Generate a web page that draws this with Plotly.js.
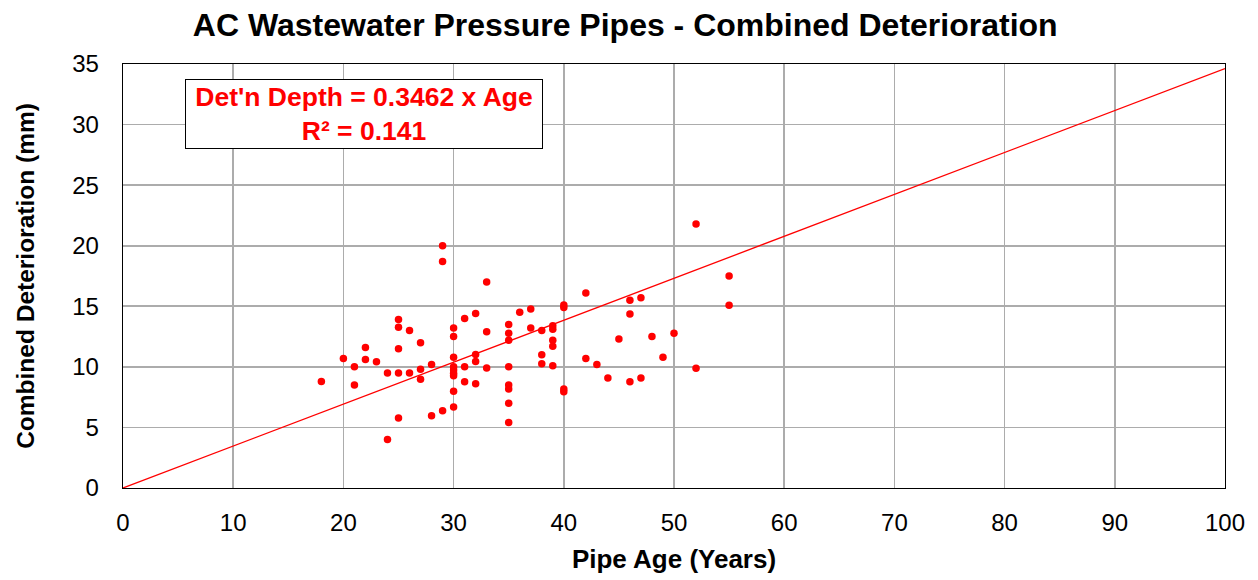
<!DOCTYPE html>
<html>
<head>
<meta charset="utf-8">
<script src="https://cdn.plot.ly/plotly-3.0.1.min.js"></script>
<style>
html,body{margin:0;padding:0;background:#fff;}
#chart{width:1258px;height:580px;}
</style>
</head>
<body>
<div id="chart"></div>
<script>
// Pipe age (years) of each sample
const pipeAge = [
  18,
  20,
  21, 21,
  22, 22,
  23,
  24, 24,
  25, 25, 25, 25, 25,
  26, 26,
  27, 27, 27,
  28, 28,
  29, 29, 29,
  30, 30, 30, 30, 30, 30, 30, 30, 30,
  31, 31, 31,
  32, 32, 32, 32,
  33, 33, 33,
  35, 35, 35, 35, 35, 35, 35, 35,
  36,
  37, 37,
  38, 38, 38,
  39, 39, 39, 39, 39,
  40, 40, 40, 40,
  42, 42,
  43,
  44,
  45,
  46, 46, 46,
  47, 47,
  48,
  49,
  50,
  52, 52,
  55, 55
];
// Combined deterioration depth (mm) of each sample
const deterioration = [
  8.8,
  10.7,
  10.0, 8.5,
  11.6, 10.6,
  10.43,
  9.5, 4.0,
  13.9, 13.27, 11.5, 9.5, 5.78,
  13.0, 9.5,
  12.0, 9.8, 8.97,
  10.2, 5.97,
  20.0, 18.7, 6.38,
  13.2, 12.5, 10.8, 10.0, 9.74, 9.47, 9.27, 7.98, 6.69,
  14.0, 10.0, 8.78,
  14.4, 11.03, 10.45, 8.6,
  17.0, 12.9, 9.9,
  13.5, 12.77, 12.2, 10.0, 8.5, 8.17, 7.0, 5.4,
  14.5,
  14.78, 13.2,
  13.0, 11.0, 10.26,
  13.4, 13.1, 12.2, 11.7, 10.1,
  15.1, 14.9, 8.17, 7.95,
  16.1, 10.7,
  10.2,
  9.08,
  12.3,
  15.5, 14.36, 8.78,
  15.7, 9.08,
  12.5,
  10.8,
  12.77,
  21.8, 9.88,
  17.5, 15.08
];
// Trend line (through origin) from the chart's equation
const trendSlope = 0.3462;
const trendR2 = 0.141;
const trendAgeRange = [0, 100];
const trendDepth = trendAgeRange.map(a => trendSlope * a);

const FONT = 'Liberation Sans, Arial, sans-serif';

const traces = [
  {
    x: trendAgeRange, y: trendDepth, type: 'scatter', mode: 'lines',
    line: {color: '#ff0000', width: 1.3}, hoverinfo: 'skip', showlegend: false
  },
  {
    x: pipeAge, y: deterioration, type: 'scatter', mode: 'markers',
    marker: {color: '#ff0000', size: 7.5}, showlegend: false
  }
];

const layout = {
  width: 1258, height: 580,
  paper_bgcolor: '#ffffff', plot_bgcolor: '#ffffff',
  margin: {l: 123, r: 33, t: 64, b: 92},
  font: {family: FONT, color: '#000000'},
  title: {
    text: 'AC Wastewater Pressure Pipes - Combined Deterioration',
    font: {family: FONT, size: 32, weight: 'bold', color: '#000000'},
    x: 0.497, xref: 'container', xanchor: 'center',
    y: 1 - 25/580, yref: 'container', yanchor: 'middle'
  },
  xaxis: {
    range: [0, 100], dtick: 10, tick0: 0,
    showgrid: true, gridcolor: '#acacac', gridwidth: 1.6,
    zeroline: false, showline: true, mirror: true, linecolor: '#000000', linewidth: 1.3,
    ticks: '', ticklabelstandoff: 13,
    tickfont: {family: FONT, size: 24, color: '#000000'},
    title: {text: 'Pipe Age (Years)', standoff: 14,
            font: {family: FONT, size: 26, weight: 'bold', color: '#000000'}}
  },
  yaxis: {
    range: [0, 35], dtick: 5, tick0: 0,
    showgrid: true, gridcolor: '#acacac', gridwidth: 1.6,
    zeroline: false, showline: true, mirror: true, linecolor: '#000000', linewidth: 1.3,
    ticks: '', ticklabelstandoff: 18,
    tickfont: {family: FONT, size: 24, color: '#000000'},
    title: {text: 'Combined Deterioration (mm)', standoff: 30,
            font: {family: FONT, size: 24.5, weight: 'bold', color: '#000000'}}
  },
  annotations: [{
    xref: 'paper', yref: 'paper',
    x: (363.5 - 123) / 1102, y: (488 - 114) / 424,
    xanchor: 'center', yanchor: 'middle',
    text: "Det'n Depth = " + trendSlope + " x Age<br>R² = " + trendR2,
    showarrow: false, align: 'center',
    font: {family: FONT, size: 26.5, weight: 'bold', color: '#ff0000'},
    bgcolor: '#ffffff', bordercolor: '#000000', borderwidth: 1, borderpad: 2,
    width: 352, height: 64
  }]
};

Plotly.newPlot('chart', traces, layout, {displayModeBar: false, staticPlot: true});
</script>
</body>
</html>
